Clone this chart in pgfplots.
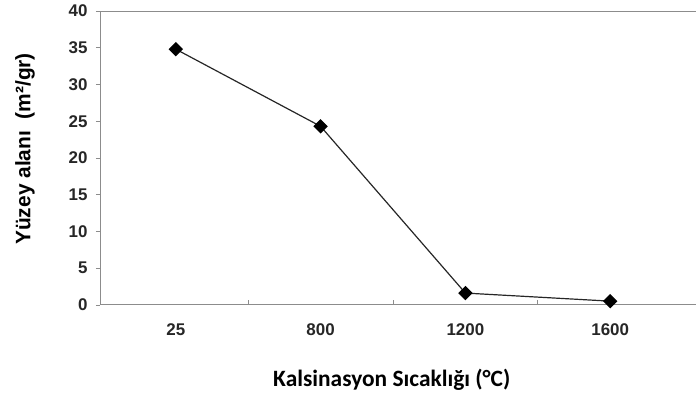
\documentclass[border=0pt]{standalone}
\usepackage{pgfplots}
\pgfplotsset{compat=1.18}
\usepackage{fontspec}
\setmainfont{Liberation Sans}
\newfontfamily\calibri{Carlito}

\begin{document}
\begin{tikzpicture}
\begin{axis}[
  scale only axis,
  width=596bp, height=294bp,
  xmin=-0.524, xmax=3.59,
  ymin=0, ymax=40,
  axis x line*=bottom,
  axis y line*=left,
  axis line style={draw=black!45, line width=0.8bp},
  xtick={0,1,2,3},
  xticklabels={25,800,1200,1600},
  major x tick style={draw=none},
  minor xtick={0.5,1.5,2.5},
  minor x tick style={draw=black!45, line width=0.6bp},
  minor tick length=5bp,
  xtick align=inside,
  ytick={0,5,...,40},
  ytick align=outside,
  major y tick style={draw=black!45, line width=0.6bp},
  major tick length=4bp,
  tick label style={font=\bfseries\fontsize{17}{18}\selectfont, text=black!85},
  /pgf/number format/assume math mode=true,
  yticklabel style={xshift=-5bp},
  xticklabel style={yshift=-15bp},
  every axis y label/.style={at={(axis description cs:0,0.5)},
    xshift=-75bp, yshift=9bp, rotate=90, anchor=center,
    font=\bfseries\fontsize{21}{23}\selectfont},
  ylabel={Yüzey alanı\ \ (m²/gr)},
  every axis x label/.style={at={(axis description cs:0.5,0)}, anchor=center,
    yshift=-75bp, xshift=-6bp,
    font=\calibri\bfseries\fontsize{23.5}{25}\selectfont},
  xlabel={Kalsinasyon Sıcaklığı (°C)},
  clip=false,
]
\draw[black!45, line width=0.8bp] (rel axis cs:0,1) -- (rel axis cs:1,1);
\addplot[black!85, line width=1.2bp, mark=square*,
  mark options={fill=black, draw=black, rotate=45, mark size=4.5bp, solid}]
  coordinates {(0,34.8) (1,24.3) (2,1.6) (3,0.5)};
\path (rel axis cs:0,1) ++(-100bp,11bp);
\path (rel axis cs:0,0) ++(0,-94bp);
\end{axis}
\end{tikzpicture}
\end{document}
